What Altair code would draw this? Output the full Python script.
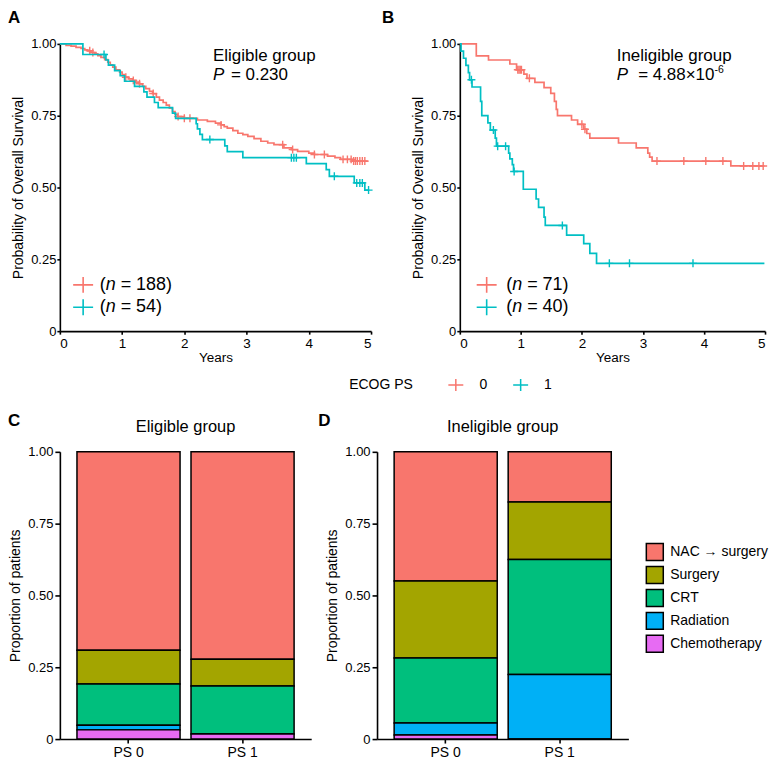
import altair as alt
import pandas as pd

FONT = "Liberation Sans"
RED = "#F8766D"
CYAN = "#00BFC4"
CROSS = "M-1,0L1,0M0,-1L0,1"
LCROSS = "M-1.25,0L1.25,0M0,-1L0,1"

# ---------------- Kaplan-Meier data ----------------
# Panel A, eligible group, PS 0 (n = 188)
a0_t = [0, 0.10, 0.18, 0.26, 0.34, 0.40, 0.45, 0.50, 0.56, 0.61, 0.66, 0.72, 0.77, 0.81,
        0.85, 0.90, 0.96, 1.00, 1.04, 1.10, 1.17, 1.22, 1.28, 1.33, 1.38, 1.44, 1.49, 1.55,
        1.60, 1.66, 1.71, 1.76, 1.81, 1.85, 1.89, 2.00, 2.21, 2.37, 2.50, 2.59, 2.64, 2.69,
        2.78, 2.86, 2.94, 3.02, 3.12, 3.23, 3.34, 3.44, 3.60, 3.72, 3.82, 4.00, 4.09, 4.30,
        4.42, 4.51, 4.70, 4.95]
a0_s = [1.0, 0.995, 0.992, 0.988, 0.984, 0.979, 0.976, 0.970, 0.965, 0.959, 0.953, 0.945,
        0.936, 0.927, 0.919, 0.910, 0.902, 0.893, 0.884, 0.878, 0.873, 0.867, 0.861, 0.852,
        0.844, 0.835, 0.827, 0.815, 0.804, 0.796, 0.787, 0.776, 0.764, 0.755, 0.747, 0.741,
        0.735, 0.730, 0.724, 0.718, 0.712, 0.707, 0.698, 0.689, 0.684, 0.678, 0.670, 0.661,
        0.655, 0.649, 0.638, 0.632, 0.626, 0.620, 0.615, 0.609, 0.604, 0.598, 0.592, 0.592]
a0_ct = [0.48, 0.53, 1.06, 1.18, 1.28, 1.50, 1.90, 2.00, 2.09, 2.59, 3.58, 3.74, 4.09, 4.25,
         4.55, 4.62, 4.68, 4.72, 4.75, 4.78, 4.82, 4.86, 4.90]
a0_cs = [0.976, 0.970, 0.884, 0.873, 0.861, 0.827, 0.747, 0.741, 0.741, 0.718, 0.649, 0.632,
         0.615, 0.615, 0.598, 0.598, 0.598, 0.592, 0.592, 0.592, 0.592, 0.592, 0.592]

# Panel A, eligible group, PS 1 (n = 54)
a1_t = [0, 0.37, 0.74, 0.78, 0.88, 0.97, 1.04, 1.20, 1.35, 1.40, 1.52, 1.58, 1.81, 1.86,
        2.19, 2.21, 2.25, 2.29, 2.65, 2.69, 2.94, 3.96, 4.28, 4.33, 4.73, 4.90, 4.97]
a1_s = [1.0, 0.963, 0.944, 0.926, 0.907, 0.889, 0.870, 0.852, 0.833, 0.815, 0.796, 0.778,
        0.759, 0.741, 0.722, 0.704, 0.685, 0.667, 0.645, 0.625, 0.604, 0.583, 0.562, 0.539,
        0.516, 0.491, 0.491]
a1_ct = [0.71, 2.41, 3.72, 3.76, 3.80, 4.41, 4.77, 4.82, 4.86, 4.96]
a1_cs = [0.963, 0.667, 0.604, 0.604, 0.604, 0.539, 0.516, 0.516, 0.516, 0.491]

# Panel B, ineligible group, PS 0 (n = 71)
b0_t = [0, 0.27, 0.47, 0.82, 0.93, 1.05, 1.10, 1.23, 1.38, 1.49, 1.55, 1.58, 1.60, 1.83,
        1.93, 2.03, 2.08, 2.13, 2.60, 2.89, 3.08, 3.11, 3.15, 4.44, 4.99]
b0_s = [1.0, 0.958, 0.944, 0.930, 0.910, 0.895, 0.880, 0.866, 0.848, 0.828, 0.800, 0.772,
        0.750, 0.735, 0.720, 0.703, 0.688, 0.672, 0.655, 0.638, 0.620, 0.606, 0.592, 0.575,
        0.575]
b0_ct = [0.95, 0.97, 0.99, 1.01, 1.14, 2.00, 2.05, 3.23, 3.67, 4.03, 4.31, 4.65, 4.80, 4.90,
         4.97]
b0_cs = [0.910, 0.910, 0.910, 0.910, 0.880, 0.720, 0.703, 0.592, 0.592, 0.592, 0.592, 0.575,
         0.575, 0.575, 0.575]

# Panel B, ineligible group, PS 1 (n = 40)
b1_t = [0, 0.02, 0.06, 0.10, 0.14, 0.16, 0.20, 0.34, 0.36, 0.46, 0.50, 0.58, 0.60, 0.80,
        0.82, 0.86, 0.88, 1.04, 1.25, 1.29, 1.38, 1.40, 1.75, 2.03, 2.13, 2.24, 4.99]
b1_s = [1.0, 0.975, 0.950, 0.925, 0.900, 0.875, 0.850, 0.800, 0.750, 0.725, 0.700, 0.672,
        0.644, 0.620, 0.600, 0.580, 0.556, 0.494, 0.460, 0.431, 0.397, 0.368, 0.334, 0.305,
        0.271, 0.236, 0.236]
b1_ct = [0.19, 0.55, 0.62, 0.75, 0.89, 1.68, 2.45, 2.78, 3.82]
b1_cs = [0.875, 0.700, 0.644, 0.644, 0.556, 0.368, 0.236, 0.236, 0.236]

# ---------------- Treatment proportions ----------------
groups = ["PS 0", "PS 1"]
treatments = ["NAC \u2192 surgery", "Surgery", "CRT", "Radiation", "Chemotherapy"]
treat_colors = ["#F8766D", "#A3A500", "#00BF7D", "#00B0F6", "#E76BF3"]
elig_ps0 = [0.691, 0.117, 0.144, 0.016, 0.032]
elig_ps1 = [0.722, 0.093, 0.167, 0.000, 0.018]
inel_ps0 = [0.450, 0.268, 0.226, 0.042, 0.014]
inel_ps1 = [0.175, 0.200, 0.400, 0.225, 0.000]

W_A, W_B, H_KM = 312, 306, 288
W_BAR, H_BAR = 252, 288

y_label_expr = "datum.value == 0 ? '0' : format(datum.value, '.2f')"


def km_panel(letter, letter_dx, curves, annot, p_parts, legend_pos, n_labels, xw):
    x_enc = alt.X("t:Q", scale=alt.Scale(domain=[0, 5], nice=False),
                  axis=alt.Axis(values=[0, 1, 2, 3, 4, 5], format="d", title="Years",
                                tickSize=3, labelPadding=2, titlePadding=1,
                                labelFontSize=13.5, titleFontSize=13.5))
    y_enc = alt.Y("s:Q", scale=alt.Scale(domain=[0, 1], nice=False),
                  axis=alt.Axis(values=[0, 0.25, 0.5, 0.75, 1], labelExpr=y_label_expr,
                                title="Probability of Overall Survival",
                                tickSize=3, labelPadding=1, titlePadding=5,
                                labelFontSize=13, titleFontSize=14))
    layers = []
    for (t, s, ct, cs, col) in curves:
        layers.append(alt.Chart(pd.DataFrame({"t": t, "s": s}))
                      .mark_line(interpolate="step-after", color=col, strokeWidth=1.7)
                      .encode(x=x_enc, y=y_enc))
        layers.append(alt.Chart(pd.DataFrame({"t": ct, "s": cs}))
                      .mark_point(shape=CROSS, size=64, filled=False, color=col,
                                  strokeWidth=1.4, opacity=1)
                      .encode(x=x_enc, y=y_enc))
    # in-plot legend
    sym_t, txt_t = legend_pos
    leg = pd.DataFrame({"t": [sym_t, sym_t], "s": [0.161, 0.083], "c": ["0", "1"]})
    layers.append(alt.Chart(leg).mark_point(shape=LCROSS, size=256, filled=False,
                                            strokeWidth=1.6, opacity=1)
                  .encode(x=x_enc, y=y_enc,
                          color=alt.Color("c:N", scale=alt.Scale(domain=["0", "1"],
                                                                 range=[RED, CYAN]),
                                          legend=None)))
    legt = pd.DataFrame({"t": [txt_t, txt_t], "s": [0.161, 0.083],
                         "o": ["(", "("], "n": ["n", "n"], "r": n_labels})
    layers.append(alt.Chart(legt).mark_text(fontSize=18, align="left", baseline="middle")
                  .encode(x=x_enc, y=y_enc, text="o:N"))
    layers.append(alt.Chart(legt).mark_text(fontSize=18, align="left", baseline="middle",
                                            fontStyle="italic", dx=6.0)
                  .encode(x=x_enc, y=y_enc, text="n:N"))
    layers.append(alt.Chart(legt).mark_text(fontSize=18, align="left", baseline="middle",
                                            dx=21.0)
                  .encode(x=x_enc, y=y_enc, text="r:N"))
    # title + p value annotation
    tt, ts, ps, ttxt = annot
    ann = pd.DataFrame({"t": [tt], "s": [ts], "lab": [ttxt]})
    layers.append(alt.Chart(ann).mark_text(fontSize=17, align="left", baseline="alphabetic")
                  .encode(x=x_enc, y=y_enc, text="lab:N"))
    pdf = pd.DataFrame({"t": [tt], "s": [ps], "p": ["P"]})
    layers.append(alt.Chart(pdf).mark_text(fontSize=17, align="left", baseline="alphabetic",
                                           fontStyle="italic")
                  .encode(x=x_enc, y=y_enc, text="p:N"))
    for (txt, dx, dy, fs) in p_parts:
        d = pd.DataFrame({"t": [tt], "s": [ps], "lab": [txt]})
        layers.append(alt.Chart(d).mark_text(fontSize=fs, align="left",
                                             baseline="alphabetic", dx=dx, dy=dy)
                      .encode(x=x_enc, y=y_enc, text="lab:N"))
    # panel letter
    layers.append(alt.Chart(pd.DataFrame({"lab": [letter]}))
                  .mark_text(fontSize=17, fontWeight="bold", align="left", baseline="top")
                  .encode(x=alt.value(letter_dx), y=alt.value(-34), text="lab:N"))
    return alt.layer(*layers).properties(width=xw, height=H_KM)


panel_a = km_panel("A", -52,
                   [(a0_t, a0_s, a0_ct, a0_cs, RED), (a1_t, a1_s, a1_ct, a1_cs, CYAN)],
                   (2.46, 0.9415, 0.873, "Eligible group"),
                   [("= 0.230", 18, 0, 17)], (0.374, 0.64), ["= 188)", "= 54)"], W_A)
panel_b = km_panel("B", -78,
                   [(b0_t, b0_s, b0_ct, b0_cs, RED), (b1_t, b1_s, b1_ct, b1_cs, CYAN)],
                   (2.57, 0.9415, 0.876, "Ineligible group"),
                   [("= 4.88\u00d710", 21.5, 0, 17), ("-6", 98, -7, 10.5)],
                   (0.44, 0.76), ["= 71)", "= 40)"], W_B)

top = alt.hconcat(panel_a, panel_b, spacing=6)

# ---------------- shared ECOG PS legend row ----------------
LW = 500
leg_txt = pd.DataFrame({"px": [322, 424.7, 489.3], "lab": ["ECOG PS", "0", "1"]})
leg_sym = pd.DataFrame({"px": [397, 462], "c": ["0", "1"]})
lx = alt.X("px:Q", scale=alt.Scale(domain=[0, LW], nice=False), axis=None)
legend_row = alt.layer(
    alt.Chart(leg_txt).mark_text(fontSize=14, align="center", baseline="middle")
    .encode(x=lx, y=alt.value(21), text="lab:N"),
    alt.Chart(leg_sym).mark_point(shape=LCROSS, size=144, filled=False, strokeWidth=1.5,
                                  opacity=1)
    .encode(x=lx, y=alt.value(21),
            color=alt.Color("c:N", scale=alt.Scale(domain=["0", "1"], range=[RED, CYAN]),
                            legend=None)),
).properties(width=LW, height=48)


# ---------------- stacked bar panels ----------------
def bar_df(v0, v1):
    rows = []
    for g, vals in zip(groups, [v0, v1]):
        for i, (tr, v) in enumerate(zip(treatments, vals)):
            rows.append({"grp": g, "trt": tr, "val": v, "rank": len(treatments) - i})
    return pd.DataFrame(rows)


def bar_panel(letter, letter_dx, title, v0, v1, show_legend):
    if show_legend:
        legend = alt.Legend(title=None, orient="none", legendX=269, legendY=91,
                            symbolType="square", symbolSize=289, symbolStrokeColor="black",
                            symbolStrokeWidth=1.5, labelFontSize=14, labelFont=FONT,
                            labelColor="black", rowPadding=0, labelOffset=6)
        color = alt.Color("trt:N", scale=alt.Scale(domain=treatments, range=treat_colors),
                          sort=treatments, legend=legend)
    else:
        color = alt.Color("trt:N", scale=alt.Scale(domain=treatments, range=treat_colors),
                          sort=treatments, legend=None)
    bars = alt.Chart(bar_df(v0, v1)).mark_bar(stroke="black", strokeWidth=1.5).encode(
        x=alt.X("grp:N", scale=alt.Scale(paddingInner=0.096, paddingOuter=0.15),
                axis=alt.Axis(title=None, labelAngle=0, tickSize=4, labelPadding=2,
                              labelFontSize=14)),
        y=alt.Y("val:Q", stack="zero", scale=alt.Scale(domain=[0, 1], nice=False),
                axis=alt.Axis(values=[0, 0.25, 0.5, 0.75, 1], labelExpr=y_label_expr,
                              title="Proportion of patients", tickSize=5, labelPadding=2,
                              titlePadding=5, labelFontSize=13, titleFontSize=14)),
        color=color,
        order=alt.Order("rank:Q", sort="ascending"),
    )
    lab = alt.Chart(pd.DataFrame({"lab": [letter]})).mark_text(
        fontSize=17, fontWeight="bold", align="left", baseline="top"
    ).encode(x=alt.value(letter_dx), y=alt.value(-39), text="lab:N")
    ttl = alt.Chart(pd.DataFrame({"lab": [title]})).mark_text(
        fontSize=16.5, align="center", baseline="middle"
    ).encode(x=alt.value(W_BAR / 2), y=alt.value(-25), text="lab:N")
    return alt.layer(bars, lab, ttl).properties(width=W_BAR, height=H_BAR)


panel_c = bar_panel("C", -52, "Eligible group", elig_ps0, elig_ps1, False)
panel_d = bar_panel("D", -59, "Ineligible group", inel_ps0, inel_ps1, True)
bottom = alt.hconcat(panel_c, panel_d, spacing=7).resolve_scale(color="independent")

chart = alt.vconcat(top, legend_row, bottom, spacing=0).resolve_scale(
    color="independent"
).properties(padding=0, background="white").configure_axis(
    labelFont=FONT, titleFont=FONT, labelFontSize=13, titleFontSize=13,
    titleFontWeight="normal", labelColor="black", titleColor="black",
    domainColor="black", tickColor="black", domainWidth=1.6, tickWidth=1.6, grid=False
).configure_view(stroke=None).configure_text(font=FONT, color="black")

chart.save("out.html", embed_options={"renderer": "svg", "actions": False})
